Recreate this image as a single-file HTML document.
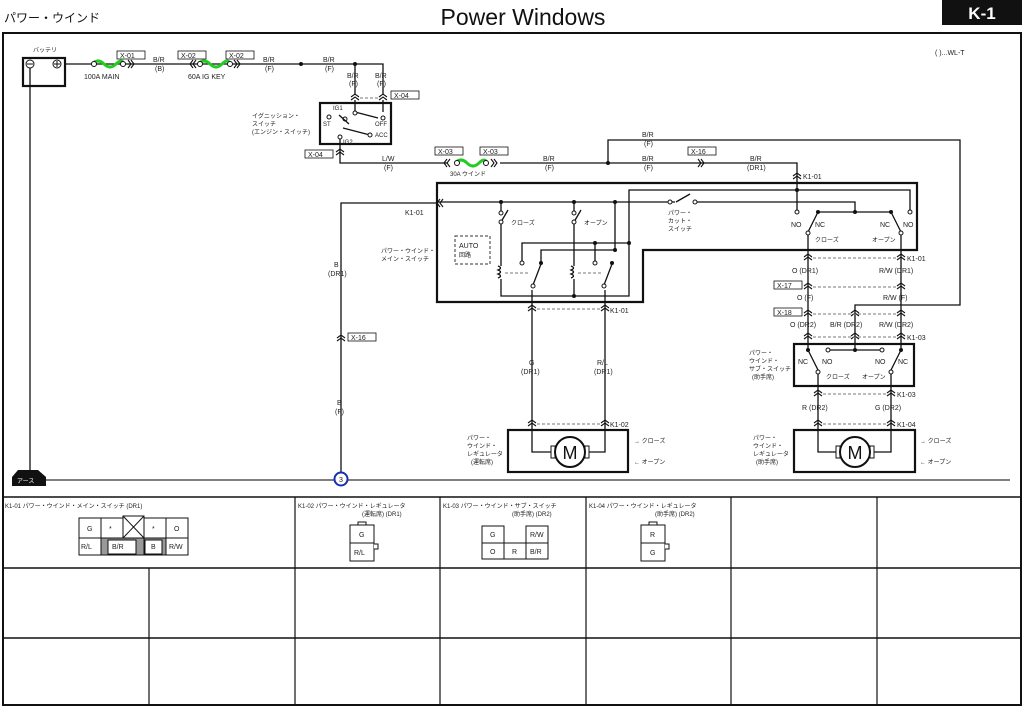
<!DOCTYPE html>
<html><head><meta charset="utf-8"><style>
html,body{margin:0;padding:0;background:#fff;}
svg{display:block;font-family:"Liberation Sans","Noto Sans CJK JP",sans-serif;}
.t{font-size:7px;fill:#222;}
.j{font-size:6px;fill:#222;}
.w{stroke:#111;stroke-width:1.3;fill:none;}
.b{stroke:#111;stroke-width:2.2;fill:none;}
.d{stroke:#777;stroke-width:1;stroke-dasharray:3 2;fill:none;}
.c{fill:#fff;stroke:#111;stroke-width:1;}
</style></head><body>
<svg width="1024" height="708" viewBox="0 0 1024 708" xmlns="http://www.w3.org/2000/svg">
<defs>
<g id="cv"><path d="M-4 2 L0 -1 L4 2 M-4 5 L0 2 L4 5" stroke="#111" stroke-width="1.1" fill="none"/></g>
<g id="ch"><path d="M-2 -4 L1 0 L-2 4 M1 -4 L4 0 L1 4" stroke="#111" stroke-width="1.1" fill="none"/></g>
<g id="chl"><path d="M2 -4 L-1 0 L2 4 M-1 -4 L-4 0 L-1 4" stroke="#111" stroke-width="1.1" fill="none"/></g>
</defs>
<rect width="1024" height="708" fill="#fff"/>
<!-- header -->
<text x="4" y="22" font-size="12" fill="#111">パワー・ウインド</text>
<text x="523" y="25" font-size="23" text-anchor="middle" fill="#111">Power Windows</text>
<rect x="942" y="0" width="80" height="25" fill="#111"/>
<text x="982" y="19" font-size="17" font-weight="bold" text-anchor="middle" fill="#fff">K-1</text>
<!-- frame -->
<rect x="3" y="33" width="1018" height="672" fill="none" stroke="#111" stroke-width="2"/>
<text x="935" y="55" class="t">( )...WL-T</text>
<!-- battery -->
<text x="33" y="52" class="j">バッテリ</text>
<rect x="23" y="58" width="42" height="28" class="b"/>
<circle cx="30" cy="64" r="4" class="c"/><path d="M27 64h6" stroke="#111"/>
<circle cx="57" cy="64" r="4" class="c"/><path d="M54 64h6M57 61v6" stroke="#111"/>
<path d="M30 68 V480" class="w"/>
<!-- top wire -->
<path d="M65 64 H383 V95" class="w"/>
<path d="M355 64 V95" class="w"/>
<circle cx="301" cy="64" r="2" fill="#111"/><circle cx="355" cy="64" r="2" fill="#111"/>
<path d="M92 64 q6 -6 12 0 t12 0 t8 0" stroke="#2c2" stroke-width="3" fill="none"/>
<circle cx="94" cy="64" r="2.5" class="c"/><circle cx="123" cy="64" r="2.5" class="c"/>
<use href="#ch" x="130" y="64"/>
<rect x="117" y="51" width="28" height="8" fill="#fff" stroke="#111" stroke-width=".8"/><text x="120" y="58" class="t">X-01</text>
<text x="84" y="79" class="t">100A MAIN</text>
<text x="153" y="62" class="t">B/R</text><text x="155" y="71" class="t">(B)</text>
<use href="#chl" x="194" y="64"/>
<path d="M198 64 q6 -6 12 0 t12 0 t8 0" stroke="#2c2" stroke-width="3" fill="none"/>
<circle cx="200" cy="64" r="2.5" class="c"/><circle cx="230" cy="64" r="2.5" class="c"/>
<use href="#ch" x="236" y="64"/>
<rect x="178" y="51" width="28" height="8" fill="#fff" stroke="#111" stroke-width=".8"/><text x="181" y="58" class="t">X-02</text>
<rect x="226" y="51" width="28" height="8" fill="#fff" stroke="#111" stroke-width=".8"/><text x="229" y="58" class="t">X-02</text>
<text x="188" y="79" class="t">60A IG KEY</text>
<text x="263" y="62" class="t">B/R</text><text x="265" y="71" class="t">(F)</text>
<text x="323" y="62" class="t">B/R</text><text x="325" y="71" class="t">(F)</text>
<text x="347" y="78" class="t">B/R</text><text x="349" y="86" class="t">(F)</text>
<text x="375" y="78" class="t">B/R</text><text x="377" y="86" class="t">(F)</text>
<use href="#cv" x="355" y="95"/><use href="#cv" x="383" y="95"/>
<path d="M360 98 H380" class="d"/>
<rect x="391" y="91" width="28" height="8" fill="#fff" stroke="#111" stroke-width=".8"/><text x="394" y="98" class="t">X-04</text>
<!-- ignition switch -->
<rect x="320" y="103" width="71" height="41" class="b"/>
<path d="M355 100 V112 L378 118 M383 100 V112" class="w"/>
<circle cx="355" cy="113" r="2" class="c"/><circle cx="383" cy="118" r="2" class="c"/>
<circle cx="329" cy="117" r="2" class="c"/><circle cx="345" cy="119" r="2" class="c"/>
<path d="M339 115 L349 124 M343 128 L370 135" class="w"/>
<circle cx="370" cy="135" r="2" class="c"/><circle cx="340" cy="137" r="2" class="c"/>
<text x="333" y="110" class="j">IG1</text><text x="323" y="126" class="j">ST</text><text x="375" y="126" class="j">OFF</text><text x="375" y="137" class="j">ACC</text><text x="343" y="144" class="j">IG2</text>
<text x="252" y="118" class="j">イグニッション・</text><text x="252" y="126" class="j">スイッチ</text><text x="252" y="134" class="j">(エンジン・スイッチ)</text>
<path d="M340 139 V163 H447" class="w"/>
<use href="#cv" x="340" y="150"/>
<rect x="305" y="150" width="28" height="8" fill="#fff" stroke="#111" stroke-width=".8"/><text x="308" y="157" class="t">X-04</text>
<text x="382" y="161" class="t">L/W</text><text x="384" y="170" class="t">(F)</text>
<!-- 30A fuse -->
<use href="#chl" x="448" y="163"/>
<path d="M455 163 q6 -6 12 0 t12 0 t8 0" stroke="#2c2" stroke-width="3" fill="none"/>
<circle cx="457" cy="163" r="2.5" class="c"/><circle cx="486" cy="163" r="2.5" class="c"/>
<use href="#ch" x="493" y="163"/>
<rect x="435" y="147" width="28" height="8" fill="#fff" stroke="#111" stroke-width=".8"/><text x="438" y="154" class="t">X-03</text>
<rect x="480" y="147" width="28" height="8" fill="#fff" stroke="#111" stroke-width=".8"/><text x="483" y="154" class="t">X-03</text>
<text x="450" y="176" class="j">30A ウインド</text>
<path d="M500 163 H797 V212" class="w"/>
<path d="M608 163 V140 H960 V305 H855 V350" class="w"/>
<circle cx="608" cy="163" r="2" fill="#111"/>
<text x="543" y="161" class="t">B/R</text><text x="545" y="170" class="t">(F)</text>
<text x="642" y="137" class="t">B/R</text><text x="644" y="146" class="t">(F)</text>
<text x="642" y="161" class="t">B/R</text><text x="644" y="170" class="t">(F)</text>
<use href="#ch" x="700" y="163"/>
<rect x="688" y="147" width="28" height="8" fill="#fff" stroke="#111" stroke-width=".8"/><text x="691" y="154" class="t">X-16</text>
<text x="750" y="161" class="t">B/R</text><text x="747" y="170" class="t">(DR1)</text>
<use href="#cv" x="797" y="174"/><text x="803" y="179" class="t">K1-01</text>
<!-- main switch box -->
<path d="M437 183 H917 V250 H643 V302 H437 Z" class="b"/>
<text x="381" y="253" class="j">パワー・ウインド・</text><text x="381" y="261" class="j">メイン・スイッチ</text>
<rect x="455" y="236" width="35" height="28" fill="none" stroke="#333" stroke-dasharray="3 2"/>
<text x="459" y="248" class="t">AUTO</text><text x="459" y="257" class="j">回路</text>
<path d="M341 479 V203 H437" class="w"/>
<use href="#chl" x="441" y="203"/><text x="405" y="215" class="t">K1-01</text>
<text x="334" y="267" class="t">B</text><text x="328" y="276" class="t">(DR1)</text>
<use href="#cv" x="341" y="336"/>
<rect x="348" y="333" width="28" height="8" fill="#fff" stroke="#111" stroke-width=".8"/><text x="351" y="340" class="t">X-16</text>
<text x="337" y="405" class="t">B</text><text x="335" y="414" class="t">(F)</text>
<!-- internal -->
<path d="M437 202 H675 M697 202 H855 V212 M818 212 H891" class="w"/>
<path d="M676 202 L690 194" class="w"/><circle cx="670" cy="202" r="2" class="c"/><circle cx="695" cy="202" r="2" class="c"/>
<text x="668" y="215" class="j">パワー・</text><text x="668" y="223" class="j">カット・</text><text x="668" y="231" class="j">スイッチ</text>
<path d="M501 202 V211 M501 223 V266 M501 279 V296 H629 V190 H910 V210 M574 202 V211 M574 223 V266 M574 279 V296 M615 202 V250 H541 V262" class="w"/>
<path d="M522 261 V243 H629 M595 261 V243" class="w"/>
<path d="M501 222 L508 210 M574 222 L581 210" class="w"/>
<circle cx="501" cy="213" r="2" class="c"/><circle cx="501" cy="222" r="2" class="c"/>
<circle cx="574" cy="213" r="2" class="c"/><circle cx="574" cy="222" r="2" class="c"/>
<text x="511" y="225" class="j">クローズ</text><text x="584" y="225" class="j">オープン</text>
<path d="M498 266 q5 2 0 4 q5 2 0 4 q5 2 0 4" class="w"/><path d="M571 266 q5 2 0 4 q5 2 0 4 q5 2 0 4" class="w"/>
<path d="M505 273 H530 M578 273 H601" class="d"/>
<circle cx="522" cy="263" r="2" class="c"/><circle cx="595" cy="263" r="2" class="c"/>
<path d="M533 285 L541 264 M604 285 L612 264" class="w"/>
<circle cx="533" cy="286" r="2" class="c"/><circle cx="604" cy="286" r="2" class="c"/>
<circle cx="541" cy="263" r="2" fill="#111"/><circle cx="612" cy="263" r="2" fill="#111"/>
<g fill="#111"><circle cx="501" cy="202" r="2"/><circle cx="574" cy="202" r="2"/><circle cx="615" cy="202" r="2"/><circle cx="574" cy="296" r="2"/><circle cx="595" cy="243" r="2"/><circle cx="629" cy="243" r="2"/><circle cx="615" cy="250" r="2"/><circle cx="797" cy="190" r="2"/><circle cx="855" cy="212" r="2"/><circle cx="818" cy="212" r="2"/><circle cx="891" cy="212" r="2"/></g>
<!-- right switches in main -->
<circle cx="797" cy="212" r="2" class="c"/><circle cx="910" cy="212" r="2" class="c"/>
<path d="M818 212 L808 232 M891 212 L901 232" class="w"/>
<circle cx="808" cy="233" r="2" class="c"/><circle cx="901" cy="233" r="2" class="c"/>
<text x="791" y="227" class="t">NO</text><text x="815" y="227" class="t">NC</text><text x="880" y="227" class="t">NC</text><text x="903" y="227" class="t">NO</text>
<text x="815" y="242" class="j">クローズ</text><text x="872" y="242" class="j">オープン</text>
<path d="M808 235 V344 M901 235 V344" class="w"/>
<path d="M532 290 V452 H553 M605 290 V452 H586" class="w"/>
<use href="#cv" x="532" y="306"/><use href="#cv" x="605" y="306"/><path d="M537 309 H600" class="d"/><text x="610" y="313" class="t">K1-01</text>
<text x="529" y="365" class="t">G</text><text x="521" y="374" class="t">(DR1)</text>
<text x="597" y="365" class="t">R/L</text><text x="594" y="374" class="t">(DR1)</text>
<use href="#cv" x="532" y="421"/><use href="#cv" x="605" y="421"/><path d="M537 424 H600" class="d"/><text x="610" y="427" class="t">K1-02</text>
<!-- left motor -->
<rect x="508" y="430" width="120" height="42" class="b"/>
<rect x="551" y="446" width="4" height="12" class="c"/><rect x="585" y="446" width="4" height="12" class="c"/>
<circle cx="570" cy="452" r="15" fill="#fff" stroke="#111" stroke-width="2"/>
<text x="570" y="459" font-size="18" text-anchor="middle" fill="#111">M</text>
<text x="467" y="440" class="j">パワー・</text><text x="467" y="448" class="j">ウインド・</text><text x="467" y="456" class="j">レギュレータ</text><text x="471" y="464" class="j">(運転席)</text>
<text x="634" y="443" class="j">→ クローズ</text><text x="634" y="464" class="j">← オープン</text>
<!-- right wiring -->
<use href="#cv" x="808" y="255"/><use href="#cv" x="901" y="255"/><path d="M813 258 H896" class="d"/><text x="907" y="261" class="t">K1-01</text>
<text x="792" y="273" class="t">O (DR1)</text><text x="879" y="273" class="t">R/W (DR1)</text>
<use href="#cv" x="808" y="284"/><use href="#cv" x="901" y="284"/><path d="M813 287 H896" class="d"/>
<rect x="774" y="281" width="28" height="8" fill="#fff" stroke="#111" stroke-width=".8"/><text x="777" y="288" class="t">X-17</text>
<text x="797" y="300" class="t">O (F)</text><text x="883" y="300" class="t">R/W (F)</text>
<use href="#cv" x="808" y="311"/><use href="#cv" x="855" y="311"/><use href="#cv" x="901" y="311"/><path d="M813 314 H896" class="d"/>
<rect x="774" y="308" width="28" height="8" fill="#fff" stroke="#111" stroke-width=".8"/><text x="777" y="315" class="t">X-18</text>
<text x="790" y="327" class="t">O (DR2)</text><text x="830" y="327" class="t">B/R (DR2)</text><text x="879" y="327" class="t">R/W (DR2)</text>
<use href="#cv" x="808" y="334"/><use href="#cv" x="855" y="334"/><use href="#cv" x="901" y="334"/><path d="M813 337 H896" class="d"/><text x="907" y="340" class="t">K1-03</text>
<!-- sub switch -->
<rect x="794" y="344" width="120" height="42" class="b"/>
<path d="M808 344 V350 L818 370 M901 344 V350 L891 370 M830 350 H882" class="w"/>
<circle cx="808" cy="350" r="2" fill="#111"/><circle cx="901" cy="350" r="2" fill="#111"/><circle cx="855" cy="350" r="2" fill="#111"/>
<circle cx="828" cy="350" r="2" class="c"/><circle cx="882" cy="350" r="2" class="c"/>
<circle cx="818" cy="372" r="2" class="c"/><circle cx="891" cy="372" r="2" class="c"/>
<text x="798" y="364" class="t">NC</text><text x="822" y="364" class="t">NO</text><text x="875" y="364" class="t">NO</text><text x="898" y="364" class="t">NC</text>
<text x="826" y="379" class="j">クローズ</text><text x="862" y="379" class="j">オープン</text>
<text x="749" y="355" class="j">パワー・</text><text x="749" y="363" class="j">ウインド・</text><text x="749" y="371" class="j">サブ・スイッチ</text><text x="752" y="379" class="j">(助手席)</text>
<path d="M818 374 V452 H840 M891 374 V452 H870" class="w"/>
<use href="#cv" x="818" y="391"/><use href="#cv" x="891" y="391"/><path d="M823 394 H886" class="d"/><text x="897" y="397" class="t">K1-03</text>
<text x="802" y="410" class="t">R (DR2)</text><text x="875" y="410" class="t">G (DR2)</text>
<use href="#cv" x="818" y="421"/><use href="#cv" x="891" y="421"/><path d="M823 424 H886" class="d"/><text x="897" y="427" class="t">K1-04</text>
<rect x="794" y="430" width="121" height="42" class="b"/>
<rect x="836" y="446" width="4" height="12" class="c"/><rect x="870" y="446" width="4" height="12" class="c"/>
<circle cx="855" cy="452" r="15" fill="#fff" stroke="#111" stroke-width="2"/>
<text x="855" y="459" font-size="18" text-anchor="middle" fill="#111">M</text>
<text x="753" y="440" class="j">パワー・</text><text x="753" y="448" class="j">ウインド・</text><text x="753" y="456" class="j">レギュレータ</text><text x="756" y="464" class="j">(助手席)</text>
<text x="920" y="443" class="j">→ クローズ</text><text x="920" y="464" class="j">← オープン</text>
<!-- ground -->
<path d="M20 480 H1010" stroke="#555" stroke-width="1.5"/>
<path d="M12 486 V477 L18 470 H38 L46 477 V486 Z" fill="#111"/><text x="17" y="483" font-size="6" fill="#fff">アース</text>
<circle cx="341" cy="479" r="6.5" fill="#fff" stroke="#1a2fb0" stroke-width="2"/><text x="341" y="482" font-size="7" text-anchor="middle" fill="#111">3</text>
<!-- bottom table -->
<path d="M3 497 H1021 M3 568 H1021 M3 638 H1021" stroke="#111" stroke-width="1.5"/>
<path d="M295 497 V705 M440 497 V705 M586 497 V705 M731 497 V705 M877 497 V705 M149 568 V705" stroke="#111" stroke-width="1.2"/>
<text x="5" y="508" class="j">K1-01 パワー・ウインド・メイン・スイッチ (DR1)</text>
<text x="298" y="508" class="j">K1-02 パワー・ウインド・レギュレータ</text><text x="362" y="516" class="j">(運転席) (DR1)</text>
<text x="443" y="508" class="j">K1-03 パワー・ウインド・サブ・スイッチ</text><text x="512" y="516" class="j">(助手席) (DR2)</text>
<text x="589" y="508" class="j">K1-04 パワー・ウインド・レギュレータ</text><text x="655" y="516" class="j">(助手席) (DR2)</text>
<!-- K1-01 connector -->
<g stroke="#111" stroke-width="1" fill="#fff">
<rect x="79" y="518" width="22" height="20"/><rect x="101" y="518" width="22" height="20"/><rect x="144" y="518" width="22" height="20"/><rect x="166" y="518" width="22" height="20"/>
<rect x="123" y="516" width="21" height="22"/>
<rect x="79" y="538" width="22" height="17"/><rect x="101" y="538" width="43" height="17" fill="#999"/><rect x="144" y="538" width="22" height="17" fill="#999"/><rect x="166" y="538" width="22" height="17"/>
<rect x="108" y="540" width="28" height="14"/><rect x="145" y="540" width="17" height="14"/>
</g>
<path d="M123 516 L144 538 M144 516 L123 538" stroke="#111"/>
<g class="t" font-size="7"><text x="87" y="531">G</text><text x="109" y="531">*</text><text x="152" y="531">*</text><text x="174" y="531">O</text>
<text x="81" y="549">R/L</text><text x="112" y="549">B/R</text><text x="151" y="549">B</text><text x="169" y="549">R/W</text></g>
<!-- K1-02 -->
<g stroke="#111" stroke-width="1" fill="#fff"><rect x="350" y="525" width="24" height="18"/><rect x="350" y="543" width="24" height="18"/><rect x="358" y="522" width="8" height="3"/><path d="M374 544 h4 v5 h-4" /></g>
<text x="359" y="537" class="t">G</text><text x="354" y="555" class="t">R/L</text>
<!-- K1-03 -->
<g stroke="#111" stroke-width="1" fill="#fff"><rect x="482" y="526" width="22" height="17"/><rect x="526" y="526" width="22" height="17"/><rect x="482" y="543" width="22" height="16"/><rect x="504" y="543" width="22" height="16"/><rect x="526" y="543" width="22" height="16"/></g>
<text x="490" y="537" class="t">G</text><text x="530" y="537" class="t">R/W</text><text x="490" y="554" class="t">O</text><text x="512" y="554" class="t">R</text><text x="530" y="554" class="t">B/R</text>
<!-- K1-04 -->
<g stroke="#111" stroke-width="1" fill="#fff"><rect x="641" y="525" width="24" height="18"/><rect x="641" y="543" width="24" height="18"/><rect x="649" y="522" width="8" height="3"/><path d="M665 544 h4 v5 h-4"/></g>
<text x="650" y="537" class="t">R</text><text x="650" y="555" class="t">G</text>
</svg>
</body></html>
